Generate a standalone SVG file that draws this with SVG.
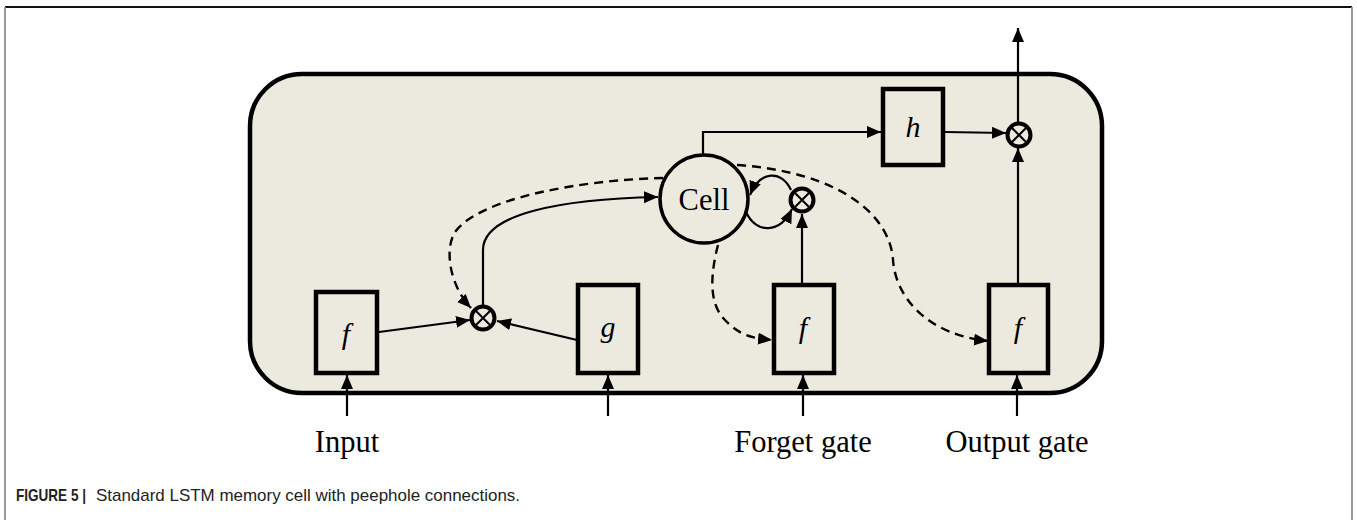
<svg xmlns="http://www.w3.org/2000/svg" width="1357" height="520" viewBox="0 0 1357 520">
  <style>
    .frame-top { stroke: #111; stroke-width: 2; fill: none; }
    .frame-side { stroke: #999; stroke-width: 2; fill: none; }
    .cellbox { fill: #ECEADF; stroke: #000; stroke-width: 4.5; }
    .gate { fill: #ECEADF; stroke: #000; stroke-width: 4.5; }
    .mult { fill: #ECEADF; stroke: #000; stroke-width: 4; }
    .cross { stroke: #000; stroke-width: 2; }
    .cell { fill: #ECEADF; stroke: #000; stroke-width: 3.5; }
    .wire { fill: none; stroke: #000; stroke-width: 2.2; }
    .dash { fill: none; stroke: #000; stroke-width: 2.4; stroke-dasharray: 9 6; }
    .sym { font-family: "Liberation Serif", "DejaVu Serif", serif; font-style: italic; font-size: 30px; text-anchor: middle; }
    .lbl { font-family: "Liberation Serif", "DejaVu Serif", serif; font-size: 30.5px; text-anchor: middle; }
    .cap { font-family: "Liberation Sans", Arial, sans-serif; font-size: 17px; fill: #222; }
  </style>
  <defs>
    <marker id="arr" markerUnits="userSpaceOnUse" markerWidth="16" markerHeight="14" refX="14" refY="6" orient="auto">
      <path d="M0,0 L14,6 L0,12 Z" fill="#000"/>
    </marker>
  </defs>

  <rect width="1357" height="520" fill="#fff"/>
  <!-- figure frame -->
  <line class="frame-top" x1="5" y1="7" x2="1352" y2="7"/>
  <line class="frame-side" x1="5" y1="7" x2="5" y2="520"/>
  <line class="frame-side" x1="1352" y1="7" x2="1352" y2="520"/>

  <!-- memory cell block -->
  <rect id="block" class="cellbox" x="250" y="74" width="852" height="319" rx="52" ry="52"/>

  <!-- connectors -->
  <g id="connectors">
    <!-- external inputs -->
    <line class="wire" x1="347" y1="416" x2="347" y2="375" marker-end="url(#arr)"/>
    <line class="wire" x1="608" y1="416" x2="608" y2="375" marker-end="url(#arr)"/>
    <line class="wire" x1="803" y1="416" x2="803" y2="375" marker-end="url(#arr)"/>
    <line class="wire" x1="1017" y1="416" x2="1017" y2="375" marker-end="url(#arr)"/>
    <!-- gates into input multiplier -->
    <line class="wire" x1="379" y1="332" x2="470" y2="320" marker-end="url(#arr)"/>
    <line class="wire" x1="577" y1="340" x2="497" y2="321" marker-end="url(#arr)"/>
    <!-- input multiplier to cell -->
    <path class="wire" d="M483,305 L483,250 C483,214 560,199 658,197" marker-end="url(#arr)"/>
    <!-- cell to h, h to output multiplier, output -->
    <path class="wire" d="M703,155 L703,132 L881,132" marker-end="url(#arr)"/>
    <line class="wire" x1="945" y1="132" x2="1006" y2="133" marker-end="url(#arr)"/>
    <line class="wire" x1="1018" y1="122" x2="1018" y2="28" marker-end="url(#arr)"/>
    <!-- output gate to output multiplier -->
    <line class="wire" x1="1018" y1="283" x2="1018" y2="148" marker-end="url(#arr)"/>
    <!-- forget gate to forget multiplier -->
    <line class="wire" x1="802" y1="283" x2="802" y2="214" marker-end="url(#arr)"/>
    <!-- recurrent loop through forget multiplier -->
    <path class="wire" d="M791,190 C782,170 760,170 750,195" marker-end="url(#arr)"/>
    <path class="wire" d="M746,212 C756,234 780,234 792,209" marker-end="url(#arr)"/>
    <!-- peephole connections -->
    <path class="dash" d="M663,178 C580,180 480,198 455,232 C444,250 450,286 471,308" marker-end="url(#arr)"/>
    <path class="dash" d="M718,245 C711,272 708,302 724,319 C740,336 752,338 772,340" marker-end="url(#arr)"/>
    <path class="dash" d="M737,165 C840,172 890,215 893,260 C896,300 930,335 988,341" marker-end="url(#arr)"/>
  </g>

  <!-- nodes -->
  <g id="cell">
    <circle class="cell" cx="704" cy="199" r="44"/>
    <text class="lbl" x="704" y="210" font-size="32">Cell</text>
  </g>
  <g id="input-gate">
    <rect class="gate" x="316" y="292" width="61" height="81"/>
    <text class="sym" x="346" y="344">f</text>
  </g>
  <g id="candidate">
    <rect class="gate" x="578" y="285" width="60" height="88"/>
    <text class="sym" x="608" y="337">g</text>
  </g>
  <g id="forget-gate">
    <rect class="gate" x="774" y="285" width="60" height="88"/>
    <text class="sym" x="803" y="338">f</text>
  </g>
  <g id="output-gate">
    <rect class="gate" x="989" y="285" width="59" height="88"/>
    <text class="sym" x="1018" y="338">f</text>
  </g>
  <g id="squash">
    <rect class="gate" x="883" y="89" width="60" height="76"/>
    <text class="sym" x="913" y="137">h</text>
  </g>
  <g id="mult-input">
    <circle class="mult" cx="483" cy="318" r="11.5"/>
    <path class="cross" d="M476,311 L490,325 M490,311 L476,325"/>
  </g>
  <g id="mult-forget">
    <circle class="mult" cx="802" cy="200" r="11.5"/>
    <path class="cross" d="M795,193 L809,207 M809,193 L795,207"/>
  </g>
  <g id="mult-output">
    <circle class="mult" cx="1019" cy="135" r="11.5"/>
    <path class="cross" d="M1012,128 L1026,142 M1026,128 L1012,142"/>
  </g>

  <!-- labels -->
  <text class="lbl" x="347" y="452">Input</text>
  <text class="lbl" x="803" y="452">Forget gate</text>
  <text class="lbl" x="1017" y="452">Output gate</text>

  <!-- caption -->
  <text class="cap" x="16" y="501" font-weight="bold" textLength="70" lengthAdjust="spacingAndGlyphs">FIGURE 5 |</text>
  <text class="cap" x="96" y="501" textLength="424" lengthAdjust="spacingAndGlyphs">Standard LSTM memory cell with peephole connections.</text>
</svg>
